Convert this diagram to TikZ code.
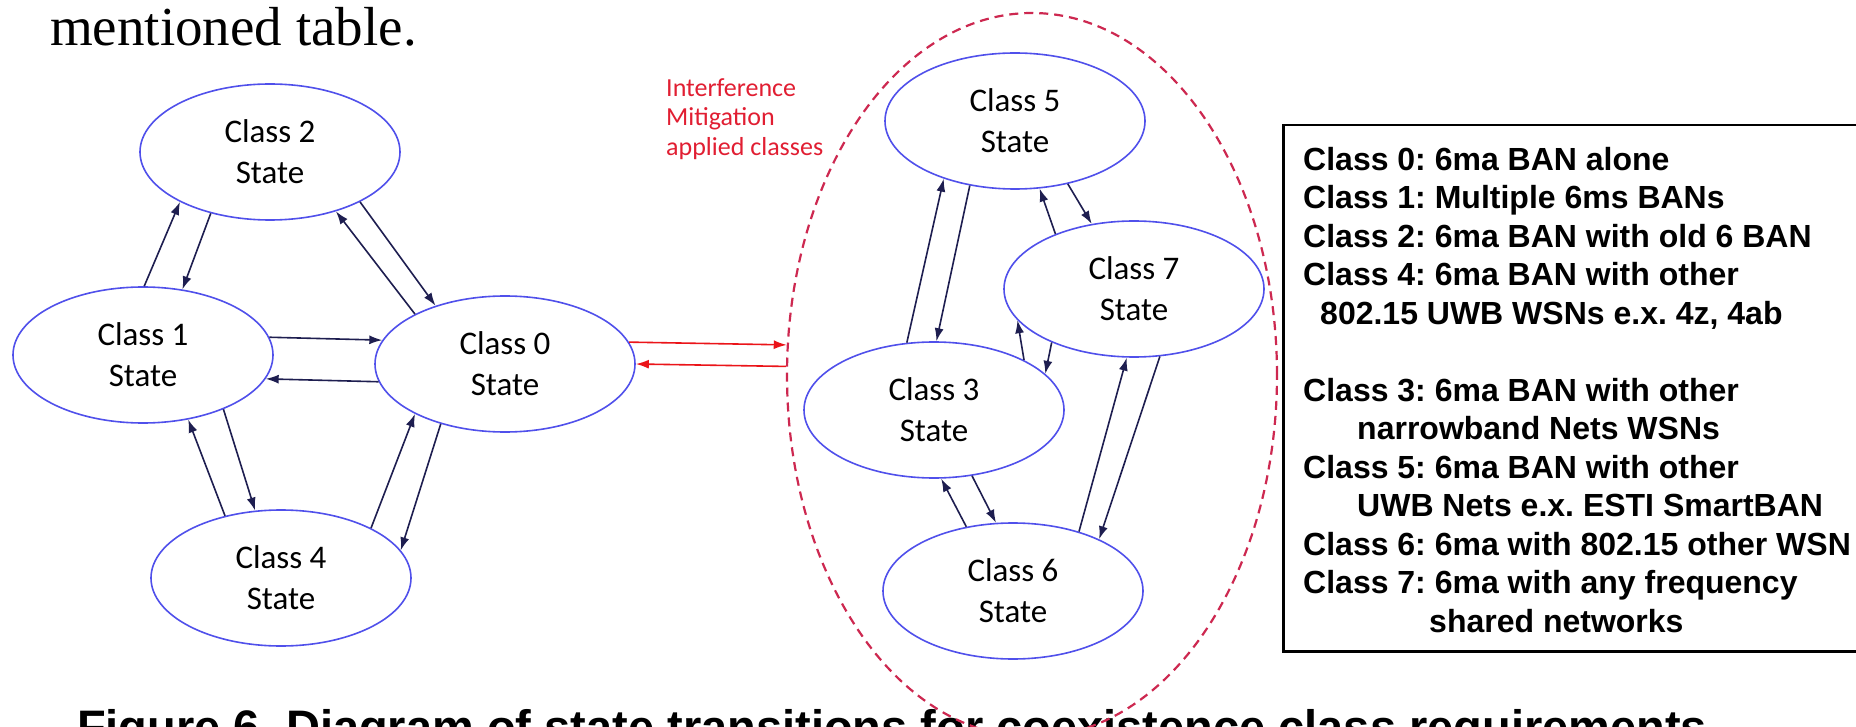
\documentclass[tikz,border=0pt]{standalone}
\usepackage{fontspec}
\setmainfont{Liberation Serif}
\newfontfamily\calib{Carlito}
\newfontfamily\arialfont{Liberation Sans}
\usetikzlibrary{shapes.geometric,arrows.meta}
\definecolor{eblue}{RGB}{80,80,235}
\definecolor{navy}{RGB}{30,30,80}
\definecolor{dred}{RGB}{205,40,80}
\definecolor{tred}{RGB}{225,30,50}
\definecolor{ared}{RGB}{235,20,25}
\frenchspacing
\begin{document}
\begin{tikzpicture}[x=1pt,y=-1pt,
  state/.style={ellipse, draw=eblue, line width=1.6pt, minimum width=260pt, minimum height=136pt, inner sep=0pt, align=center, font=\calib\fontsize{33}{41}\selectfont},
  arr/.style={draw=navy, line width=1.6pt, -{Latex[length=13pt,width=9pt]}},
  rarr/.style={draw=ared, line width=1.6pt, -{Latex[length=13pt,width=9pt]}},
]
\useasboundingbox (0,0) rectangle (1856,727);
\fill[white] (0,0) rectangle (1856,727);
\begin{scope}
\clip (0,0) rectangle (1856,727);
% top text
\node[anchor=base west, inner sep=0pt, font=\fontsize{55}{60}\selectfont] (top) at (50,46) {mentioned table.};
% caption
\node[anchor=base west, inner sep=0pt, font=\arialfont\bfseries\fontsize{47}{52}\selectfont] (cap) at (77,743) {Figure 6. Diagram of state transitions for coexistence class requirements};
% states
\node[state] (c2) at (270,152) {Class 2\\State};
\node[state] (c1) at (143,355) {Class 1\\State};
\node[state] (c0) at (505,364) {Class 0\\State};
\node[state] (c4) at (281,578) {Class 4\\State};
\node[state] (c5) at (1015,121) {Class 5\\State};
\node[state] (c7) at (1134,289) {Class 7\\State};
\node[state] (c3) at (934,410) {Class 3\\State};
\node[state] (c6) at (1013,591) {Class 6\\State};
% group
\node[ellipse, draw=dred, line width=2.2pt, dash pattern=on 9pt off 6pt, minimum width=490pt, minimum height=724pt, inner sep=0pt] (grp) at (1032,375) {};
% red note
\node[anchor=north west, inner sep=0pt, align=left, text=tred, font=\calib\fontsize{26}{29.5}\selectfont] (note) at (666,78) {Interference\\Mitigation\\applied classes};
% legend box
\node[draw, line width=2.5pt, anchor=north west, minimum width=620pt, minimum height=526pt, inner sep=0pt] (box) at (1282,124) {};
\node[anchor=north west, inner sep=0pt, align=left, font=\arialfont\bfseries\fontsize{32}{38.5}\selectfont] (legend) at (1303,147) {Class 0: 6ma BAN alone\\
Class 1: Multiple 6ms BANs\\
Class 2: 6ma BAN with old 6 BAN\\
Class 4: 6ma BAN with other\\
\hspace*{17pt}802.15 UWB WSNs e.x. 4z, 4ab\\[38.5pt]
Class 3: 6ma BAN with other\\
\hspace*{54pt}narrowband Nets WSNs\\
Class 5: 6ma BAN with other\\
\hspace*{54pt}UWB Nets e.x. ESTI SmartBAN\\
Class 6: 6ma with 802.15 other WSN\\
Class 7: 6ma with any frequency\\
\hspace*{126pt}shared networks};
% left arrows
\draw[arr] (c1.89) -- (c2.209.5);
\draw[arr] (c2.226.8) -- (c1.59.3);
\draw[arr] (c0.151.3) -- (c2.318.2);
\draw[arr] (c2.331.8) -- (c0.140.6);
\draw[arr] (c1.8.3) -- (c0.169.3);
\draw[arr] (c0.188.5) -- (c1.349.9);
\draw[arr] (c1.326) -- (c4.111.1);
\draw[arr] (c4.132.8) -- (c1.305.5);
\draw[arr] (c4.29.9) -- (c0.209.5);
\draw[arr] (c0.223.7) -- (c4.13.8);
% right arrows
\draw[arr] (c3.112.1) -- (c5.219.7);
\draw[arr] (c5.235.5) -- (c3.88.4);
\draw[arr] (c7.145.6) -- (c5.290.1);
\draw[arr] (c5.310.5) -- (c7.123.5);
\draw[arr] (c3.29.2) -- (c7.195.5);
\draw[arr] (c7.213.5) -- (c3.18.7);
\draw[arr] (c3.300.6) -- (c6.104);
\draw[arr] (c6.126) -- (c3.276.9);
\draw[arr] (c6.42) -- (c7.264.6);
\draw[arr] (c7.291.2) -- (c6.31);
% red arrows
\draw[rarr] (c0.10.3) -- (grp.173.5);
\draw[rarr] (grp.178.1) -- (c0.0.9);
\end{scope}
\end{tikzpicture}
\end{document}
